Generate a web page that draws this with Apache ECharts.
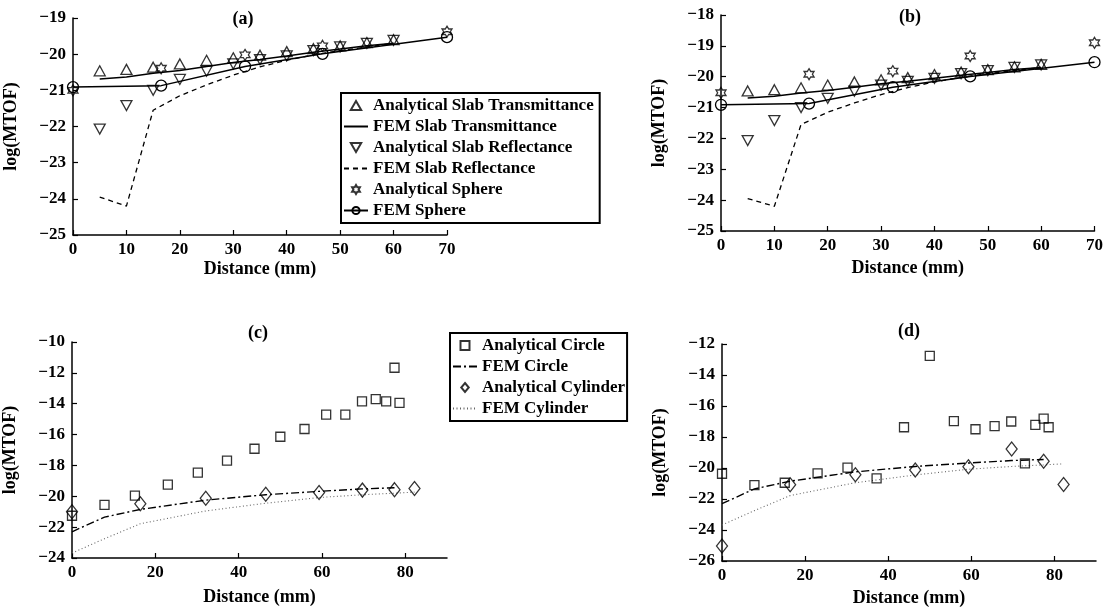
<!DOCTYPE html>
<html>
<head>
<meta charset="utf-8">
<title>log(MTOF) vs Distance</title>
<script src="https://cdn.jsdelivr.net/npm/echarts@6/dist/echarts.min.js"></script>
<style>
  html, body { margin: 0; padding: 0; background: #fff; }
  #main { width: 1106px; height: 608px; }
</style>
</head>
<body>
<div id="main"></div>
<script>
// panels (a) and (b): slab and sphere
var slabX = [5, 10, 15, 20, 25, 30, 35, 40, 45, 50, 55, 60];
var anaTrans = [-20.46, -20.42, -20.36, -20.27, -20.17, -20.1, -20.03, -19.93, -19.85, -19.77, -19.68, -19.6];
var femTrans = [-20.69, -20.63, -20.53, -20.45, -20.34, -20.23, -20.15, -20.05, -19.95, -19.86, -19.77, -19.7];
var anaRefl = [-22.07, -21.42, -21.0, -20.7, -20.47, -20.27, -20.15, -20.05, -19.9, -19.8, -19.7, -19.62];
var femRefl = [-23.95, -24.2, -21.55, -21.15, -20.85, -20.58, -20.35, -20.17, -20.02, -19.9, -19.8, -19.7];
var sphereX = [0, 16.5, 32.2, 46.7, 70];
var anaSphereA = [-21.0, -20.39, -20.02, -19.77, -19.38];
var anaSphereB = [-20.52, -19.92, -19.82, -19.33, -18.9];
var femSphere = [-20.91, -20.87, -20.34, -19.99, -19.53];

// panels (c) and (d): circle and cylinder
var circleX = [0, 7.8, 15.1, 23, 30.2, 37.2, 43.8, 50, 55.8, 61, 65.6, 69.6, 72.9, 75.4, 77.4, 78.6];
var anaCircleC = [-21.26, -20.56, -19.96, -19.25, -18.47, -17.69, -16.92, -16.14, -15.64, -14.71, -14.71, -13.85, -13.7, -13.85, -11.67, -13.95];
var anaCircleD = [-20.37, -21.1, -20.95, -20.35, -19.98, -20.67, -17.37, -12.76, -16.98, -17.5, -17.3, -17.0, -19.7, -17.22, -16.81, -17.37];
var cylX = [0, 16.4, 32.1, 46.5, 59.3, 69.7, 77.4, 82.2];
var anaCylC = [-21.0, -20.48, -20.13, -19.87, -19.75, -19.6, -19.57, -19.5];
var anaCylD = [-25.03, -21.08, -20.43, -20.13, -19.92, -18.77, -19.57, -21.06];
var femCircleX = [0, 7.8, 16.4, 32.1, 46.5, 59.3, 69.7, 77.4];
var femCircle = [-22.3, -21.35, -20.85, -20.25, -19.9, -19.68, -19.52, -19.45];
var femCylX = [0, 7.8, 16.4, 32.1, 46.5, 59.3, 69.7, 77.4, 82.2];
var femCyl = [-23.68, -22.75, -21.78, -20.95, -20.45, -20.08, -19.9, -19.8, -19.73];

var xTicksCD = [0, 20, 40, 60, 80];

var FONT = 'Liberation Serif';
var hexagram = 'path://M0,-10L2.89,-5L8.66,-5L5.77,0L8.66,5L2.89,5L0,10L-2.89,5L-8.66,5L-5.77,0L-8.66,-5L-2.89,-5Z';
var triUp = 'path://M0,8.66L10,8.66L5,0Z';
var triDown = 'path://M0,0L10,0L5,8.66Z';
var square = 'path://M0,0L10,0L10,10L0,10Z';
var rhomb = 'path://M0,-6L5,0L0,6L-5,0Z';
var hollow = { color: 'rgba(255,255,255,0)', borderColor: '#000', borderWidth: 1.3 };
var noDot = { color: 'rgba(255,255,255,0)', borderWidth: 0 };

function pairs(xs, ys) {
    return xs.map(function (x, i) { return [x, ys[i]]; });
}

function minus(v) {
    return v < 0 ? '\u2212' + (-v) : String(v);
}

function xAxis(g, max, step, gap, custom) {
    var ax = {
        type: 'value', gridIndex: g, min: 0, max: max, interval: step,
        name: 'Distance (mm)', nameLocation: 'middle', nameGap: gap,
        nameTextStyle: { fontFamily: FONT, fontWeight: 'bold', fontSize: 18, color: '#000' },
        axisLine: { lineStyle: { color: '#000', width: 1.5 } },
        axisTick: { inside: true, length: 5, lineStyle: { color: '#000', width: 1.2 } },
        axisLabel: { fontFamily: FONT, fontWeight: 'bold', fontSize: 17, color: '#000', margin: 6 },
        splitLine: { show: false }
    };
    if (custom) {
        ax.axisTick.customValues = custom;
        ax.axisLabel.customValues = custom;
    }
    return ax;
}

function yAxis(g, min, max, step) {
    return {
        type: 'value', gridIndex: g, min: min, max: max, interval: step,
        name: 'log(MTOF)', nameLocation: 'middle', nameGap: 53, nameRotate: 90,
        nameTextStyle: { fontFamily: FONT, fontWeight: 'bold', fontSize: 18, color: '#000' },
        axisLine: { show: true, lineStyle: { color: '#000', width: 1.5 } },
        axisTick: { show: true, inside: true, length: 5, lineStyle: { color: '#000', width: 1.2 } },
        axisLabel: { fontFamily: FONT, fontWeight: 'bold', fontSize: 17, color: '#000', margin: 7, formatter: minus },
        splitLine: { show: false }
    };
}

function scatter(name, g, data, symbol, size, rotate) {
    return {
        name: name, type: 'scatter', xAxisIndex: g, yAxisIndex: g, data: data,
        symbol: symbol, symbolSize: size, symbolRotate: rotate || 0,
        itemStyle: hollow, z: 3
    };
}

function line(name, g, data, type, color, width) {
    return {
        name: name, type: 'line', xAxisIndex: g, yAxisIndex: g, data: data,
        symbol: 'none', lineStyle: { color: color, width: width, type: type },
        itemStyle: noDot, z: 2
    };
}

function sphereLine(g) {
    return {
        name: 'FEM Sphere', type: 'line', xAxisIndex: g, yAxisIndex: g, data: pairs(sphereX, femSphere),
        symbol: 'circle', symbolSize: 11, showAllSymbol: true,
        itemStyle: hollow, lineStyle: { color: '#000', width: 1.5 }, z: 2
    };
}

var series = [];
[0, 1].forEach(function (g) {
    series.push(scatter('Analytical Slab Transmittance', g, pairs(slabX, anaTrans), 'triangle', [11, 10]));
    series.push(line('FEM Slab Transmittance', g, pairs(slabX, femTrans), 'solid', '#000', 1.5));
    series.push(scatter('Analytical Slab Reflectance', g, pairs(slabX, anaRefl), 'triangle', [11, 10], 180));
    series.push(line('FEM Slab Reflectance', g, pairs(slabX, femRefl), [5, 4], '#000', 1.3));
    series.push(scatter('Analytical Sphere', g, pairs(sphereX, g === 0 ? anaSphereA : anaSphereB), hexagram, [10, 11]));
    series.push(sphereLine(g));
});
[2, 3].forEach(function (g) {
    series.push(scatter('Analytical Circle', g, pairs(circleX, g === 2 ? anaCircleC : anaCircleD), 'rect', 9));
    series.push(line('FEM Circle', g, pairs(femCircleX, femCircle), [8, 3, 2, 3], '#000', 1.4));
    series.push(scatter('Analytical Cylinder', g, pairs(cylX, g === 2 ? anaCylC : anaCylD), 'diamond', [11, 14]));
    series.push(line('FEM Cylinder', g, pairs(femCylX, femCyl), [1, 2.5], '#666', 1.1));
});

var titleStyle = { fontFamily: FONT, fontWeight: 'bold', fontSize: 18, color: '#000' };
var legendText = { fontFamily: FONT, fontWeight: 'bold', fontSize: 17, color: '#000', lineHeight: 21 };

var option = {
    animation: false,
    backgroundColor: '#fff',
    title: [
        { text: '(a)', left: 243, top: 10, textAlign: 'center', textStyle: titleStyle, padding: 0 },
        { text: '(b)', left: 910, top: 8, textAlign: 'center', textStyle: titleStyle, padding: 0 },
        { text: '(c)', left: 258, top: 324, textAlign: 'center', textStyle: titleStyle, padding: 0 },
        { text: '(d)', left: 909, top: 322, textAlign: 'center', textStyle: titleStyle, padding: 0 }
    ],
    grid: [
        { left: 73, top: 18, width: 374, height: 217 },
        { left: 721, top: 15, width: 374, height: 216 },
        { left: 72, top: 342, width: 375, height: 216 },
        { left: 722, top: 344, width: 374, height: 217 }
    ],
    xAxis: [
        xAxis(0, 70, 10, 25),
        xAxis(1, 70, 10, 28),
        xAxis(2, 90, 10, 30, xTicksCD),
        xAxis(3, 90, 10, 28, xTicksCD)
    ],
    yAxis: [
        yAxis(0, -25, -19, 1),
        yAxis(1, -25, -18, 1),
        yAxis(2, -24, -10, 2),
        yAxis(3, -26, -12, 2)
    ],
    legend: [
        {
            data: [
                { name: 'Analytical Slab Transmittance', icon: triUp },
                'FEM Slab Transmittance',
                { name: 'Analytical Slab Reflectance', icon: triDown },
                'FEM Slab Reflectance',
                { name: 'Analytical Sphere', icon: hexagram },
                'FEM Sphere'
            ],
            orient: 'vertical', left: 341, top: 93, itemWidth: 24, itemHeight: 9, itemGap: 0,
            symbolRotate: 0,
            padding: [2, 6, 2, 2], borderColor: '#000', borderWidth: 2, backgroundColor: '#fff',
            selectedMode: false, textStyle: legendText
        },
        {
            data: [
                { name: 'Analytical Circle', icon: square },
                'FEM Circle',
                { name: 'Analytical Cylinder', icon: rhomb },
                'FEM Cylinder'
            ],
            orient: 'vertical', left: 450, top: 333, itemWidth: 24, itemHeight: 9, itemGap: 0,
            symbolRotate: 0,
            padding: [2, 2, 2, 2], borderColor: '#000', borderWidth: 2, backgroundColor: '#fff',
            selectedMode: false, textStyle: legendText
        }
    ],
    series: series
};

var chart = echarts.init(document.getElementById('main'));
chart.setOption(option);
</script>
</body>
</html>
